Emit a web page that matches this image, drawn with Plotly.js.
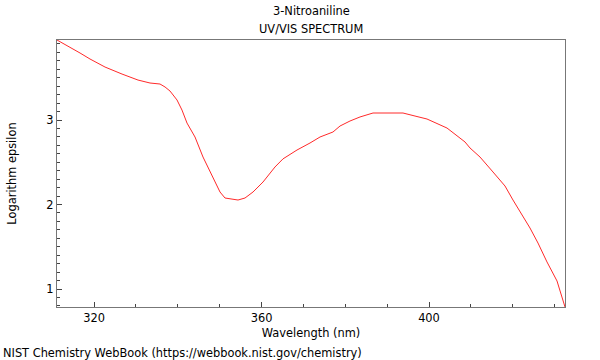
<!DOCTYPE html>
<html>
<head>
<meta charset="utf-8">
<script src="https://cdn.plot.ly/plotly-3.0.1.min.js"></script>
<style>html,body{margin:0;padding:0;background:#fff}#chart{width:600px;height:360px}</style>
</head>
<body>
<div id="chart"></div>
<script>
const wavelength = [311.16,314.27,316.66,319.04,322.63,326.69,330.51,333.37,335.76,336.96,338.15,339.82,341.01,342.21,344.12,346.03,348.42,350.09,351.28,352.96,354.39,356.06,357.97,360.36,363.22,365.13,368.48,371.58,373.97,377.07,378.75,381.13,383.52,386.63,390.21,393.79,396.66,399.52,404.30,408.60,409.79,412.18,415.28,418.15,420.06,422.21,424.12,426.03,428.18,430.57,432.48];
const logEpsilon = [3.947,3.864,3.793,3.722,3.627,3.544,3.473,3.438,3.426,3.391,3.343,3.237,3.118,2.964,2.799,2.562,2.325,2.148,2.077,2.065,2.053,2.077,2.148,2.266,2.444,2.540,2.645,2.728,2.799,2.858,2.929,2.988,3.036,3.083,3.083,3.083,3.047,3.012,2.905,2.740,2.669,2.562,2.385,2.219,2.053,1.876,1.722,1.544,1.320,1.095,0.787];
const xTicks = [320,360,400];
const yTicks = [1,2,3];

const font = {family:'DejaVu Sans, sans-serif', size:11.4, color:'#000'};
const trace = {x:wavelength, y:logEpsilon, type:'scatter', mode:'lines',
  line:{color:'#ff2a2a', width:1}, hoverinfo:'skip'};
const axisCommon = {showgrid:false, zeroline:false, showline:true, mirror:true,
  linecolor:'#777', linewidth:1.3, ticks:'inside', ticklen:5, tickcolor:'#444', tickwidth:1,
  tickfont:font, tickmode:'array'};
const layout = {
  width:600, height:360,
  margin:{l:57, r:35, t:40, b:53},
  paper_bgcolor:'#fff', plot_bgcolor:'#fff',
  showlegend:false,
  font:font,
  xaxis:Object.assign({}, axisCommon, {range:[311.16,432.48], tickvals:xTicks,
    minor:{dtick:10, tick0:300, ticks:'inside', ticklen:3, tickcolor:'#444', showgrid:false},
    title:{text:'Wavelength (nm)', font:font, standoff:5}}),
  yaxis:Object.assign({}, axisCommon, {range:[0.787,3.947], tickvals:yTicks,
    minor:{dtick:0.1, tick0:0, ticks:'inside', ticklen:3, tickcolor:'#444', showgrid:false},
    title:{text:'Logarithm epsilon', font:font, standoff:27}}),
  annotations:[
    {text:'3-Nitroaniline', xref:'paper', yref:'paper', x:0.5, y:1, yanchor:'bottom', yshift:20, showarrow:false, font:font},
    {text:'UV/VIS SPECTRUM', xref:'paper', yref:'paper', x:0.5, y:1, yanchor:'bottom', yshift:2, showarrow:false, font:font},
    {text:'NIST Chemistry WebBook (https://webbook.nist.gov/chemistry)', xref:'paper', yref:'paper', x:0, xanchor:'left', xshift:-56, y:0, yanchor:'top', yshift:-37, showarrow:false, font:font}
  ]
};
Plotly.newPlot('chart', [trace], layout, {staticPlot:true, displayModeBar:false});
</script>
</body>
</html>
